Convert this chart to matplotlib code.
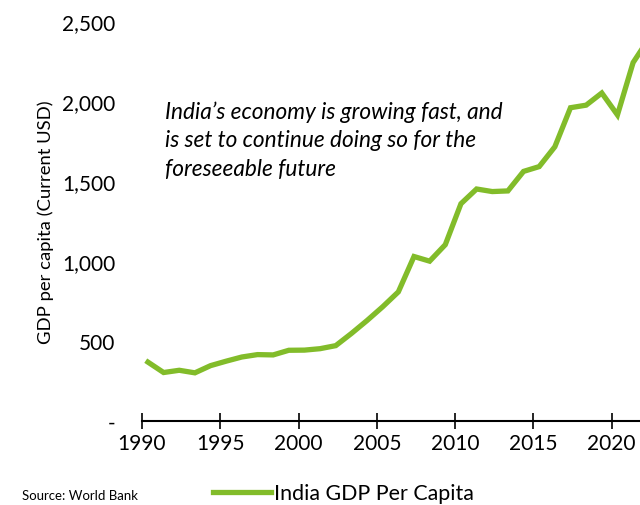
import matplotlib
matplotlib.use("Agg")
import matplotlib.pyplot as plt
from matplotlib.ticker import FixedLocator

# India GDP per capita, current USD (World Bank)
years = list(range(1990, 2023))
gdp_pc = [368, 303, 317, 301, 346, 374, 400, 415, 413, 442,
          443, 452, 471, 547, 628, 714, 807, 1028, 999, 1102,
          1358, 1450, 1434, 1438, 1560, 1590, 1714, 1958, 1974, 2050,
          1913, 2240, 2389]

x_ticks = [1990, 1995, 2000, 2005, 2010, 2015, 2020]
y_ticks = [0, 500, 1000, 1500, 2000, 2500]
y_labels = ["-", "500", "1,000", "1,500", "2,000", "2,500"]

note = ("India\u2019s economy is growing fast, and\n"
        "is set to continue doing so for the\n"
        "foreseeable future")

green = "#82BC2A"
plt.rcParams["font.family"] = ["Lato", "DejaVu Sans"]

fig = plt.figure(figsize=(6.4, 5.06), dpi=100)
ax = fig.add_axes([142 / 640, 84 / 506, 1 - 142 / 640, 400 / 506])

# points sit a bit to the right of their year tick, like the Excel original
xs = [y + 0.38 for y in years]
line, = ax.plot(xs, gdp_pc, color=green, lw=3.8, solid_joinstyle="miter",
                label="India GDP Per Capita")

ax.set_xlim(1990, 1990 + (640 - 142) / 15.65)
ax.set_ylim(0, 2500)

ax.xaxis.set_major_locator(FixedLocator(x_ticks))
ax.set_xticklabels([str(t) for t in x_ticks], fontsize=15)
ax.set_yticks(y_ticks)
ax.set_yticklabels(y_labels, fontsize=15)

for s in ["top", "right", "left"]:
    ax.spines[s].set_visible(False)
ax.spines["bottom"].set_linewidth(1.5)
ax.tick_params(axis="x", direction="inout", length=11, width=1.2, pad=3)
ax.tick_params(axis="y", length=0, pad=19)

ax.set_ylabel("GDP per capita (Current USD)", fontsize=13.3, labelpad=6)

ax.text(1991.45, 1760, note, fontsize=16.3, style="italic", va="center",
        ha="left", linespacing=1.45)

fig.text(22 / 640, 1 - 496 / 506, "Source: World Bank", fontsize=9.5,
         va="center", ha="left")

fig.legend(handles=[line], loc="center left", frameon=False, fontsize=15.4,
           bbox_to_anchor=(213 / 640, 1 - 494 / 506), handlelength=2.7,
           handletextpad=0.15, borderpad=0, borderaxespad=0)

fig.savefig("out.png", dpi=100)
